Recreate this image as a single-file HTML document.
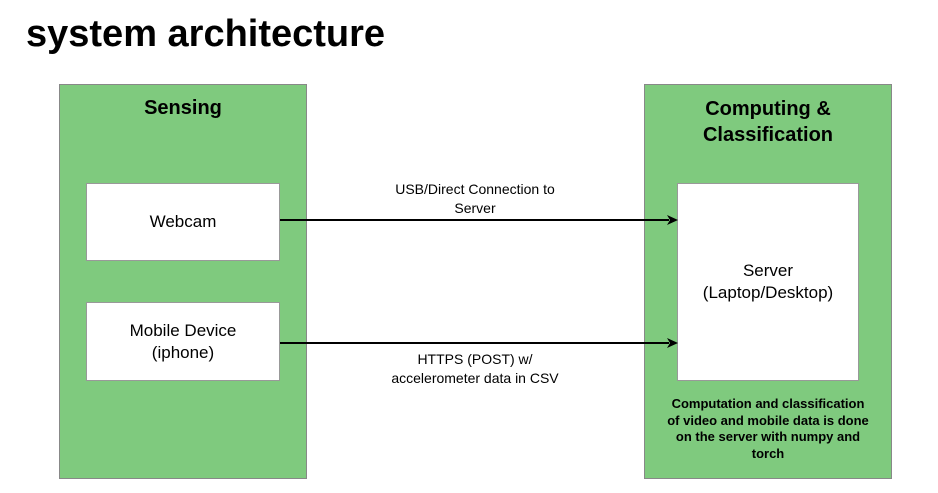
<!DOCTYPE html>
<html><head><style>
body{margin:0;width:938px;height:493px;background:#fff;position:relative;font-family:"Liberation Sans",Arial,sans-serif;overflow:hidden}
.a{position:absolute;box-sizing:border-box}
.g{background:#7fca7e;border:1px solid #888}
.w{background:#fff;border:1px solid #999;display:flex;align-items:center;justify-content:center;text-align:center;font-size:17px;color:#000;line-height:22px}
.t{position:absolute;text-align:center;font-weight:bold;color:#000}
.l{position:absolute;text-align:center;font-size:14px;line-height:19px}
</style></head><body>
<div class="t" style="left:26px;top:11px;font-size:38px;line-height:46px;text-align:left">system architecture</div>
<div class="a g" style="left:59px;top:84px;width:248px;height:395px"></div>
<div class="a g" style="left:644px;top:84px;width:248px;height:395px"></div>
<div class="t" style="left:59px;top:96px;width:248px;font-size:20px;line-height:24px">Sensing</div>
<div class="t" style="left:644px;top:96px;width:248px;font-size:20px;line-height:26px">Computing &amp;<br>Classification</div>
<div class="a w" style="left:86px;top:183px;width:194px;height:78px">Webcam</div>
<div class="a w" style="left:86px;top:302px;width:194px;height:79px">Mobile Device<br>(iphone)</div>
<div class="a w" style="left:677px;top:183px;width:182px;height:198px">Server<br>(Laptop/Desktop)</div>
<div class="t" style="left:644px;top:396px;width:248px;font-size:13px;line-height:16.5px">Computation and classification<br>of video and mobile data is done<br>on the server with numpy and<br>torch</div>
<div class="l" style="left:360px;top:180px;width:230px">USB/Direct Connection to<br>Server</div>
<div class="l" style="left:360px;top:350px;width:230px">HTTPS (POST) w/<br>accelerometer data in CSV</div>
<svg class="a" style="left:0;top:0" width="938" height="493">
<line x1="280" y1="220" x2="669" y2="220" stroke="#000" stroke-width="2"/>
<polygon points="678,220 667,215 670,220 667,225" fill="#000"/>
<line x1="280" y1="343" x2="669" y2="343" stroke="#000" stroke-width="2"/>
<polygon points="678,343 667,338 670,343 667,348" fill="#000"/>
</svg>
</body></html>
